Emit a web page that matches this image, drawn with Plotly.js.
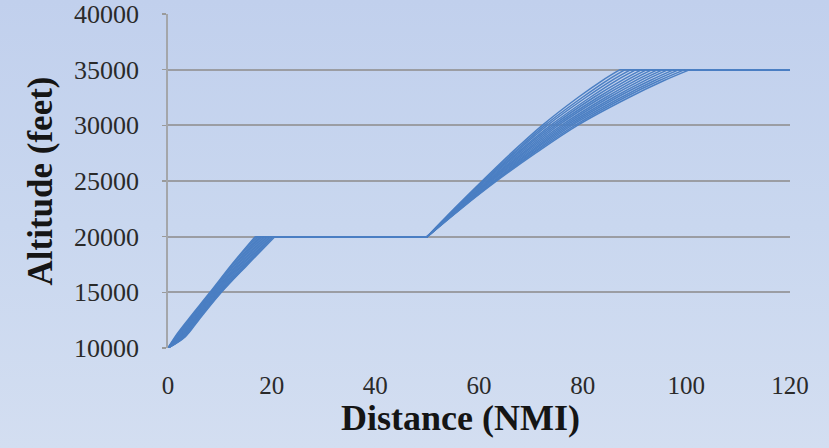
<!DOCTYPE html>
<html>
<head>
<meta charset="utf-8">
<script src="https://cdn.plot.ly/plotly-3.0.1.min.js"></script>
<style>
  html, body { margin: 0; padding: 0; }
  body {
    width: 829px; height: 448px; overflow: hidden;
    background: linear-gradient(to bottom, #c1d0ed 0%, #c9d7ef 50%, #d3def1 100%);
  }
  #chart { width: 829px; height: 448px; }
</style>
</head>
<body>
<div id="chart"></div>
<script>
// Altitude levels (feet) shared by every flight profile:
// first climb, level segment at 20000 ft, second climb, cruise at 35000 ft.
const altitudeFt = [10000, 11000, 12500, 15000, 17500, 20000, 20000,
                    22500, 25000, 27500, 30000, 32500, 34000, 35000, 35000];

// Along-track distance (NMI) at which each profile reaches the levels above.
const profile01 = [0, 1.35, 3.8, 8.1, 12.3, 16.8, 50, 55.2, 60.6, 66.2, 72.2, 79.1, 83.7, 87.2, 120];
const profile02 = [0, 1.5, 4.0, 8.3, 12.5, 17.1, 50, 55.3, 60.8, 66.6, 72.7, 79.9, 84.6, 88.2, 120];
const profile03 = [0, 1.65, 4.1, 8.4, 12.8, 17.4, 50, 55.4, 61.0, 66.9, 73.2, 80.6, 85.5, 89.3, 120];
const profile04 = [0, 1.8, 4.3, 8.6, 13.0, 17.7, 50, 55.5, 61.2, 67.3, 73.8, 81.4, 86.4, 90.3, 120];
const profile05 = [0, 1.95, 4.4, 8.8, 13.3, 17.9, 50, 55.6, 61.5, 67.6, 74.3, 82.1, 87.4, 91.4, 120];
const profile06 = [0, 2.1, 4.6, 9.0, 13.5, 18.2, 50, 55.7, 61.7, 68.0, 74.8, 82.9, 88.3, 92.4, 120];
const profile07 = [0, 2.25, 4.8, 9.1, 13.8, 18.5, 50, 55.8, 61.9, 68.4, 75.3, 83.6, 89.2, 93.4, 120];
const profile08 = [0, 2.4, 4.9, 9.3, 14.0, 18.8, 50, 55.9, 62.1, 68.7, 75.9, 84.4, 90.1, 94.5, 120];
const profile09 = [0, 2.55, 5.1, 9.5, 14.3, 19.1, 50, 56.0, 62.3, 69.1, 76.4, 85.1, 91.0, 95.5, 120];
const profile10 = [0, 2.7, 5.2, 9.7, 14.5, 19.4, 50, 56.1, 62.5, 69.5, 76.9, 85.9, 91.9, 96.5, 120];
const profile11 = [0, 2.85, 5.4, 9.9, 14.8, 19.7, 50, 56.2, 62.8, 69.8, 77.4, 86.6, 92.9, 97.6, 120];
const profile12 = [0, 3.0, 5.6, 10.0, 15.0, 20.0, 50, 56.3, 63.0, 70.2, 77.9, 87.4, 93.8, 98.6, 120];
const profile13 = [0, 3.15, 5.7, 10.2, 15.2, 20.3, 50, 56.4, 63.2, 70.5, 78.5, 88.1, 94.7, 99.7, 120];
const profile14 = [0, 3.3, 5.9, 10.3, 15.4, 20.6, 50, 56.5, 63.4, 70.9, 79.0, 88.9, 95.6, 100.7, 120];

const profiles = [profile01, profile02, profile03, profile04, profile05, profile06, profile07,
                  profile08, profile09, profile10, profile11, profile12, profile13, profile14];

// Axis tick values
const xTicks = [0, 20, 40, 60, 80, 100, 120];
const yTicks = [10000, 15000, 20000, 25000, 30000, 35000, 40000];

const LINE_COLOR = '#4b7fc3';

// Each profile is drawn as smooth climbs joined by straight level-flight legs.
// Index ranges into altitudeFt: [start, end] inclusive.
const segments = [
  { from: 0, to: 5, shape: 'spline' },   // climb to 20000 ft
  { from: 5, to: 6, shape: 'linear' },   // level at 20000 ft
  { from: 6, to: 13, shape: 'spline' },  // climb to 35000 ft
  { from: 13, to: 14, shape: 'linear' }  // cruise at 35000 ft
];

const traces = [];
profiles.forEach((dist) => {
  segments.forEach((seg) => {
    traces.push({
      type: 'scatter',
      mode: 'lines',
      x: dist.slice(seg.from, seg.to + 1),
      y: altitudeFt.slice(seg.from, seg.to + 1),
      line: { color: LINE_COLOR, width: 1.5, shape: seg.shape, smoothing: 1 },
      hoverinfo: 'x+y'
    });
  });
});

const layout = {
  width: 829,
  height: 448,
  margin: { l: 168, r: 39, t: 14, b: 100, pad: 0 },
  paper_bgcolor: 'rgba(0,0,0,0)',
  plot_bgcolor: 'rgba(0,0,0,0)',
  showlegend: false,
  font: { family: '"Liberation Serif", "Times New Roman", serif', color: '#2a2a2a' },
  xaxis: {
    range: [0, 120],
    tickvals: xTicks,
    ticktext: xTicks.map(String),
    tickfont: { size: 25, color: '#2a2a2a' },
    ticks: '',
    ticklabelstandoff: 20,
    showgrid: false,
    zeroline: false,
    showline: false
  },
  yaxis: {
    range: [10000, 40000],
    tickvals: yTicks,
    ticktext: yTicks.map(String),
    tickfont: { size: 26, color: '#2a2a2a' },
    ticks: 'outside',
    ticklen: 4,
    tickwidth: 1.5,
    tickcolor: '#9a9a9a',
    ticklabelstandoff: 18,
    showgrid: true,
    gridcolor: '#9b9da3',
    gridwidth: 1.8,
    zeroline: false,
    showline: true,
    linecolor: '#a4a6aa',
    linewidth: 1.8,
    title: {
      text: '<b>Altitude (feet)</b>',
      font: { size: 35, color: '#151515' },
      standoff: 11
    }
  },
  annotations: [{
    text: '<b>Distance (NMI)</b>',
    xref: 'paper', yref: 'paper',
    x: 0.471, y: -0.21,
    xanchor: 'center', yanchor: 'middle',
    showarrow: false,
    font: { size: 36, color: '#151515' }
  }]
};

Plotly.newPlot('chart', traces, layout, { staticPlot: true, displayModeBar: false });
</script>
</body>
</html>
